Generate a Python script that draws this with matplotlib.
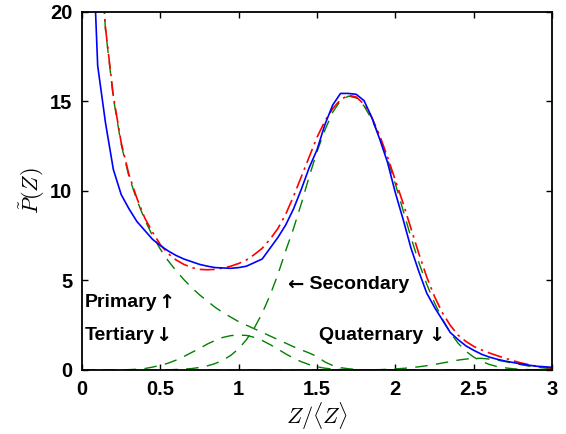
import numpy as np
import matplotlib
matplotlib.use("Agg")
import matplotlib.pyplot as plt

plt.rcParams['mathtext.fontset'] = 'cm'

# Z / <Z> grid (0.00 .. 3.00, step 0.05)
z = np.round(np.arange(0, 61) * 0.05, 2)

# measured data (blue)
measured = [40.0, 28.0, 17.0, 13.8, 11.2, 9.8, 9.0, 8.3, 7.8, 7.3,
            6.95, 6.65, 6.4, 6.2, 6.05, 5.9, 5.8, 5.72, 5.7, 5.68,
            5.72, 5.8, 6.0, 6.2, 6.8, 7.4, 8.1, 9.0, 10.1, 11.3,
            12.3, 13.7, 14.8, 15.45, 15.45, 15.4, 15.05, 14.1, 12.9, 11.6,
            9.9, 8.4, 6.8, 5.5, 4.3, 3.5, 2.8, 2.1, 1.7, 1.35,
            1.1, 0.88, 0.72, 0.6, 0.5, 0.42, 0.34, 0.27, 0.21, 0.18,
            0.15]

# total fit (red dash-dot)
fit_total = [60.0, 38.0, 25.5, 19.1, 15.3, 12.7, 10.9, 9.6, 8.5, 7.7,
             7.0, 6.5, 6.15, 5.9, 5.72, 5.62, 5.6, 5.62, 5.7, 5.8,
             5.95, 6.15, 6.45, 6.8, 7.3, 7.9, 8.7, 9.7, 10.8, 11.9,
             13.0, 13.9, 14.6, 15.1, 15.35, 15.25, 14.85, 14.1, 13.1, 11.9,
             10.6, 9.3, 7.9, 6.5, 5.2, 4.1, 3.2, 2.5, 1.95, 1.6,
             1.32, 1.12, 0.95, 0.8, 0.66, 0.52, 0.4, 0.3, 0.22, 0.16,
             0.11]

# components (green dashed)
primary = [60.0, 38.0, 25.5, 19.0, 15.2, 12.6, 10.8, 9.5, 8.4, 7.5,
           6.75, 6.1, 5.55, 5.05, 4.6, 4.2, 3.85, 3.5, 3.2, 2.95,
           2.7, 2.5, 2.3, 2.1, 1.9, 1.7, 1.5, 1.3, 1.12, 0.95,
           0.75, 0.45, 0.25, 0.13, 0.07, 0.03, 0.01, 0.0, 0.0, 0.0,
           0.0, 0.0, 0.0, 0.0, 0.0, 0.0, 0.0, 0.0, 0.0, 0.0,
           0.0, 0.0, 0.0, 0.0, 0.0, 0.0, 0.0, 0.0, 0.0, 0.0,
           0.0]

secondary = [0.0, 0.0, 0.0, 0.0, 0.0, 0.0, 0.0, 0.0, 0.0, 0.0,
             0.0, 0.01, 0.03, 0.05, 0.08, 0.14, 0.23, 0.36, 0.55, 0.82,
             1.19, 1.7, 2.35, 3.17, 4.17, 5.33, 6.66, 7.9, 9.3, 10.8,
             12.2, 13.4, 14.4, 15.05, 15.3, 15.2, 14.75, 14.0, 13.0, 11.8,
             10.4, 8.9, 7.4, 6.0, 4.8, 3.75, 2.85, 2.1, 1.5, 1.05,
             0.72, 0.48, 0.31, 0.19, 0.12, 0.07, 0.04, 0.02, 0.01, 0.0,
             0.0]

tertiary = [0.0, 0.0, 0.0, 0.0, 0.0, 0.0, 0.02, 0.04, 0.08, 0.16,
            0.26, 0.38, 0.55, 0.75, 0.98, 1.2, 1.45, 1.65, 1.82, 1.92,
            1.95, 1.93, 1.82, 1.65, 1.42, 1.17, 0.9, 0.66, 0.46, 0.3,
            0.18, 0.1, 0.05, 0.03, 0.01, 0.0, 0.0, 0.0, 0.0, 0.0,
            0.0, 0.0, 0.0, 0.0, 0.0, 0.0, 0.0, 0.0, 0.0, 0.0,
            0.0, 0.0, 0.0, 0.0, 0.0, 0.0, 0.0, 0.0, 0.0, 0.0,
            0.0]

quaternary = [0.0, 0.0, 0.0, 0.0, 0.0, 0.0, 0.0, 0.0, 0.0, 0.0,
              0.0, 0.0, 0.0, 0.0, 0.0, 0.0, 0.0, 0.0, 0.0, 0.0,
              0.0, 0.0, 0.0, 0.0, 0.0, 0.0, 0.0, 0.0, 0.0, 0.0,
              0.0, 0.0, 0.0, 0.0, 0.0, 0.0, 0.01, 0.01, 0.02, 0.04,
              0.06, 0.09, 0.13, 0.18, 0.24, 0.31, 0.39, 0.47, 0.55, 0.61,
              0.65, 0.65, 0.61, 0.55, 0.47, 0.38, 0.3, 0.22, 0.16, 0.11,
              0.07]

xticks = [0, 0.5, 1, 1.5, 2, 2.5, 3]
xticklabels = ["0", "0.5", "1", "1.5", "2", "2.5", "3"]
yticks = [0, 5, 10, 15, 20]
yticklabels = ["0", "5", "10", "15", "20"]

fig = plt.figure(figsize=(5.66, 4.34), dpi=100)
ax = fig.add_axes([0.1449, 0.1475, 0.8304, 0.8249])

green = (0, 0.5, 0)
for comp in (primary, secondary, tertiary, quaternary):
    ax.plot(z, comp, color=green, lw=1.0, dashes=(9, 6))
ax.plot(z, fit_total, color=(1, 0, 0), lw=1.2, dashes=(9, 3, 1.5, 3))
ax.plot(z, measured, color=(0, 0, 1), lw=1.2)

ax.set_xlim(0, 3)
ax.set_ylim(0, 20)
ax.set_xticks(xticks)
ax.set_xticklabels(xticklabels)
ax.set_yticks(yticks)
ax.set_yticklabels(yticklabels)
ax.tick_params(direction='in', length=4, width=1, top=True, right=True,
               labelsize=14.5, pad=7)
for lab in ax.get_xticklabels() + ax.get_yticklabels():
    lab.set_fontweight('bold')
    lab.set_family(['Liberation Sans', 'DejaVu Sans'])
for s in ax.spines.values():
    s.set_linewidth(1.3)

ax.set_xlabel(r'$Z/\langle Z\rangle$', fontsize=16, labelpad=1)
ax.set_ylabel(r'$\tilde{P}(Z)$', fontsize=16, labelpad=2)

tfam = ['Liberation Sans', 'DejaVu Sans']
afam = ['DejaVu Sans']
fs = 14


def label_with_arrow(x, y, word, arrow, arrow_first=False, gap=''):
    if arrow_first:
        a = ax.text(x, y, arrow, fontsize=fs, fontweight='bold', family=afam,
                    va='center', ha='left')
        ax.annotate(' ' + word, xy=(1, 0.5), xycoords=a, fontsize=fs,
                    fontweight='bold', family=tfam, va='center', ha='left')
    else:
        t = ax.text(x, y, word + gap, fontsize=fs, fontweight='bold',
                    family=tfam, va='center', ha='left')
        ax.annotate(arrow, xy=(1, 0.5), xycoords=t, fontsize=fs,
                    fontweight='bold', family=afam, va='center', ha='left')


label_with_arrow(0.02, 3.75, 'Primary', '\u2191')
label_with_arrow(0.02, 1.95, 'Tertiary', '\u2193')
label_with_arrow(1.31, 4.8, 'Secondary', '\u2190', arrow_first=True)
label_with_arrow(1.51, 1.9, 'Quaternary', '\u2193', gap=' ')

fig.savefig('out.png', dpi=100)
